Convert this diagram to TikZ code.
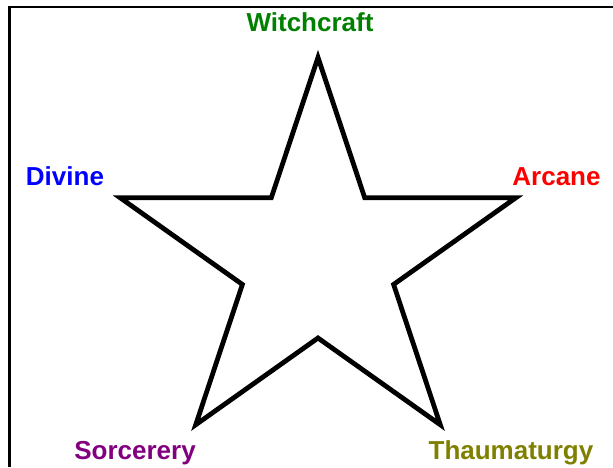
\documentclass[tikz,border=0pt]{standalone}
\usepackage{fontspec}
\setmainfont{Liberation Sans}
\usetikzlibrary{positioning, calc}
\definecolor{witchcraft}{HTML}{008000}
\definecolor{divine}{HTML}{0000FF}
\definecolor{arcane}{HTML}{FF0000}
\definecolor{sorcerery}{HTML}{800080}
\definecolor{thaumaturgy}{HTML}{808000}

\begin{document}
\begin{tikzpicture}[
    x=1pt, y=1pt,
    font=\bfseries\fontsize{26}{30}\selectfont,
    starline/.style={
        draw=black,
        line width=4.8pt,
        line join=miter
    },
    frame/.style={draw=black, line width=2.5pt},
    school/.style={anchor=base, inner sep=0pt}
]

\useasboundingbox (0,0) rectangle (613,467);
\draw[frame] (9.3,0) |- (613,460);

% outer and inner points of the star
\coordinate (C) at (318,206.5);
\foreach \i in {0,...,4} {
    \coordinate (O\i) at ($(C)+({90+72*\i}:208pt and 203pt)$);
    \coordinate (I\i) at ($(C)+({126+72*\i}:79.5pt and 77.5pt)$);
}

\draw[starline] (O0) -- (I0) -- (O1) -- (I1) -- (O2) -- (I2)
    -- (O3) -- (I3) -- (O4) -- (I4) -- cycle;

\node[school, text=witchcraft] (Witch) at ($(O0)+(-8,25.5)$) {Witchcraft};
\node[school, text=divine] (Div) at ($(O1)+(-55.2,11.8)$) {Divine};
\node[school, text=arcane] (Arc) at ($(O4)+(40.7,11.8)$) {Arcane};
\node[school, text=sorcerery] (Sorc) at ($(O2)+(-60.7,-34.3)$) {Sorcerery};
\node[school, text=thaumaturgy] (Thaum) at ($(O3)+(70.7,-34.3)$) {Thaumaturgy};

\end{tikzpicture}
\end{document}
